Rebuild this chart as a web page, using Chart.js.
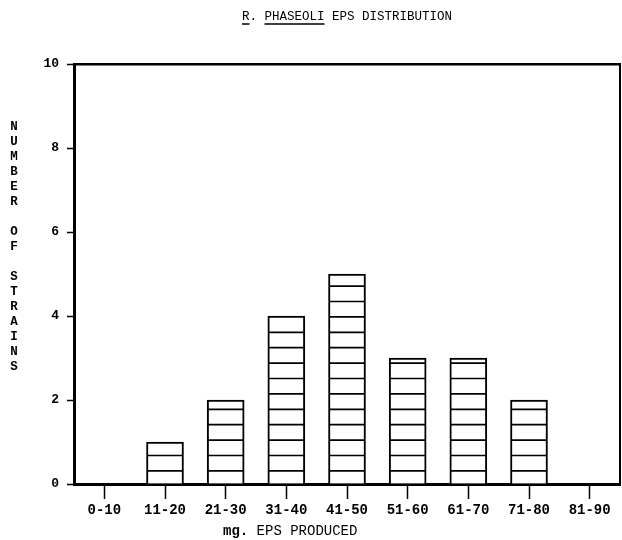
<!DOCTYPE html>
<html><head><meta charset="utf-8">
<script src="https://cdn.jsdelivr.net/npm/chart.js@4"></script>
<style>html,body{margin:0;padding:0;background:#fff}#wrap{width:622px;height:540px}</style>
</head><body><div id="wrap"><canvas id="c" width="622" height="540"></canvas></div>
<script>
const categories = ['0-10','11-20','21-30','31-40','41-50','51-60','61-70','71-80','81-90'];
const strainCounts = [0, 1, 2, 4, 5, 3, 3, 2, 0];
const yMin = 0, yMax = 10, yStep = 2;
const titleParts = ['R.', 'PHASEOLI', 'EPS DISTRIBUTION'];
const xTitleParts = ['mg.', ' EPS PRODUCED'];
const yTitleWords = ['NUMBER', 'OF', 'STRAINS'];

const MONO = '"Liberation Mono", "DejaVu Sans Mono", monospace';

const stripes = {
  id: 'stripes',
  afterDatasetsDraw(chart) {
    const ctx = chart.ctx;
    const meta = chart.getDatasetMeta(0);
    ctx.save();
    ctx.strokeStyle = '#000';
    ctx.lineWidth = 1.7;
    meta.data.forEach(bar => {
      const p = bar.getProps(['x', 'y', 'base', 'width'], true);
      if (p.base - p.y < 4) return;
      for (let yy = p.base - 12.6; yy > p.y + 2; yy -= 15.4) {
        ctx.beginPath();
        ctx.moveTo(p.x - p.width / 2 + 1, yy);
        ctx.lineTo(p.x + p.width / 2 - 1, yy);
        ctx.stroke();
      }
    });
    ctx.restore();
  }
};

const texts = {
  id: 'texts',
  afterDraw(chart) {
    const ctx = chart.ctx;
    const area = chart.chartArea;
    ctx.save();
    ctx.fillStyle = '#000';
    ctx.strokeStyle = '#000';
    // main title
    ctx.font = '12.5px ' + MONO;
    ctx.textBaseline = 'middle';
    ctx.textAlign = 'left';
    const full = titleParts.join(' ');
    const w = ctx.measureText(full).width;
    const cx = (area.left + area.right) / 2;
    const x0 = cx - w / 2;
    const ty = 17;
    ctx.fillText(full, x0, ty);
    ctx.lineWidth = 1.5;
    const rW = ctx.measureText(titleParts[0].replace('.', '')).width;
    ctx.beginPath(); ctx.moveTo(x0, ty + 7); ctx.lineTo(x0 + rW, ty + 7); ctx.stroke();
    const pStart = x0 + ctx.measureText(titleParts[0] + ' ').width;
    const pW = ctx.measureText(titleParts[1]).width;
    ctx.beginPath(); ctx.moveTo(pStart, ty + 7); ctx.lineTo(pStart + pW, ty + 7); ctx.stroke();
    // y title stacked letters
    ctx.font = 'bold 12.5px ' + MONO;
    ctx.textAlign = 'center';
    let yy = 127;
    yTitleWords.forEach(word => {
      for (const ch of word) { ctx.fillText(ch, 14, yy); yy += 15; }
      yy += 15;
    });
    // x title: bold "mg." then regular text
    ctx.textAlign = 'left';
    let xx = 223;
    ctx.font = 'bold 14px ' + MONO;
    ctx.fillText(xTitleParts[0], xx, 531);
    xx += ctx.measureText(xTitleParts[0]).width;
    ctx.font = '14px ' + MONO;
    ctx.fillText(xTitleParts[1], xx, 531);
    ctx.restore();
  }
};

new Chart(document.getElementById('c'), {
  type: 'bar',
  data: {
    labels: categories,
    datasets: [{
      data: strainCounts,
      backgroundColor: '#fff',
      borderColor: '#000',
      borderWidth: 2,
      borderSkipped: 'start',
      barThickness: 37
    }]
  },
  options: {
    responsive: false,
    animation: false,
    devicePixelRatio: 1,
    layout: { padding: { top: 64, right: 2, left: 0, bottom: 0 } },
    plugins: { legend: { display: false }, title: { display: false }, tooltip: { enabled: false } },
    scales: {
      x: {
        type: 'category',
        offset: true,
        grid: { display: true, drawOnChartArea: false, drawTicks: true, tickLength: 15, tickWidth: 1.5, tickColor: '#000', offset: false },
        border: { display: true, width: 3, color: '#000' },
        ticks: { color: '#000', font: { family: MONO, size: 14, weight: 'bold' }, padding: 3, maxRotation: 0, autoSkip: false },
        afterFit: s => { s.height = 56; }
      },
      y: {
        type: 'linear',
        min: yMin, max: yMax,
        grid: { display: true, drawOnChartArea: false, drawTicks: true, tickLength: 7, tickWidth: 1.5, tickColor: '#000' },
        border: { display: true, width: 3, color: '#000' },
        ticks: { stepSize: yStep, color: '#000', font: { family: MONO, size: 13, weight: 'bold' }, padding: 8 },
        afterFit: s => { s.width = 74; }
      },
      x2: {
        type: 'linear', position: 'top', display: true,
        grid: { display: false }, ticks: { display: false },
        border: { display: true, width: 2.5, color: '#000' },
        afterFit: s => { s.height = 0; }
      },
      y2: {
        type: 'linear', position: 'right', display: true,
        grid: { display: false }, ticks: { display: false },
        border: { display: true, width: 2, color: '#000' },
        afterFit: s => { s.width = 0; }
      }
    }
  },
  plugins: [stripes, texts]
});
</script>
</body></html>
